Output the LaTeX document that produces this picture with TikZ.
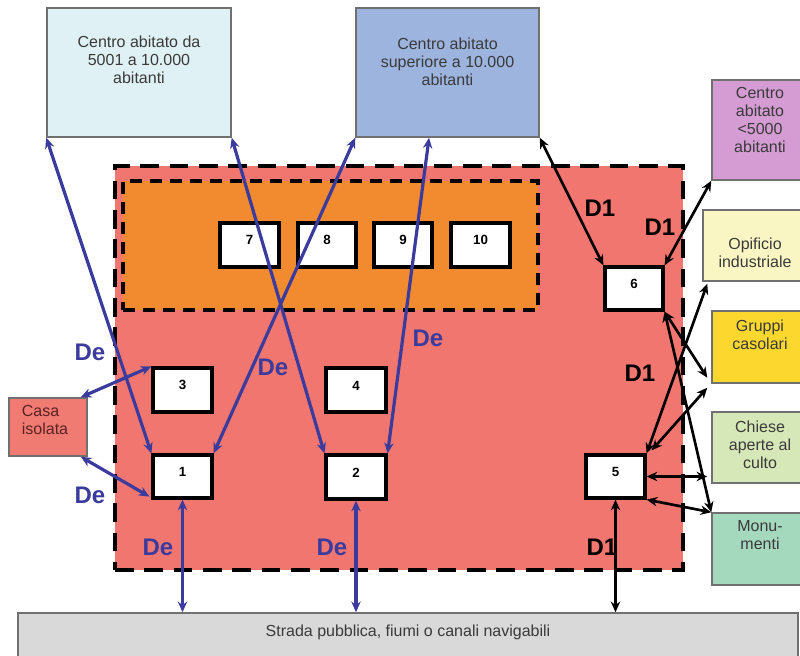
\documentclass[tikz,border=0pt]{standalone}
\usepackage{fontspec}
\setmainfont{Liberation Sans}
\usetikzlibrary{arrows.meta,fit,calc}
\definecolor{redfill}{HTML}{F27670}
\definecolor{orangefill}{HTML}{F28A30}
\definecolor{tlfill}{HTML}{E0F1F5}
\definecolor{tmfill}{HTML}{9DB4DE}
\definecolor{cfill}{HTML}{D49CD3}
\definecolor{opfill}{HTML}{FAF6C4}
\definecolor{gcfill}{HTML}{FCD72E}
\definecolor{chfill}{HTML}{D6E8B8}
\definecolor{mofill}{HTML}{A5D9BE}
\definecolor{barfill}{HTML}{D9D9D9}
\definecolor{casafill}{HTML}{F07B73}
\definecolor{arrowblue}{HTML}{3B3B9E}
\definecolor{txtgray}{HTML}{3A3A3A}
\definecolor{casatxt}{HTML}{5A2222}
\definecolor{boxline}{HTML}{707070}
\begin{document}
\begin{tikzpicture}[x=0.75pt,y=-0.75pt,
  regionbox/.style={inner sep=0pt, draw=black, line width=3.4pt, dash pattern=on 14pt off 8pt},
  subregion/.style={inner sep=0pt, draw=black, line width=2.6pt, dash pattern=on 9pt off 6pt},
  numbox/.style={inner sep=0pt, draw=black, line width=2.4pt, fill=white, font=\fontsize{10}{12}\selectfont\bfseries},
  infobox/.style={inner sep=0pt, draw=boxline, line width=1.1pt},
  infotext/.style={inner sep=0pt, anchor=north, align=center, text=txtgray, font=\fontsize{12}{13.5}\selectfont},
  tip/.tip={Stealth[length=8pt,width=7pt]},
  bluearr/.style={draw=arrowblue, line width=2.4pt, tip-tip},
  blackarr/.style={draw=black, line width=2pt, tip-tip},
  delabel/.style={inner sep=0pt, text=arrowblue, font=\fontsize{18}{18}\selectfont\bfseries},
  donelabel/.style={inner sep=0pt, text=black, font=\fontsize{18}{18}\selectfont\bfseries}
]
\useasboundingbox (0,0) rectangle (800,656);

% regions
\node[regionbox, fill=redfill, fit={(115,166)(683,570)}] (outer) {};
\node[subregion, fill=orangefill, fit={(123,181)(538,310)}] (inner) {};

% top boxes
\node[infobox, fill=tlfill, fit={(47,8)(231,137)},
  label={[infotext, yshift=-21pt]north:{Centro abitato da\\5001 a 10.000\\abitanti}}] (tl) {};
\node[infobox, fill=tmfill, fit={(356,8)(539,137)},
  label={[infotext, yshift=-23pt]north:{Centro abitato\\superiore a 10.000\\abitanti}}] (tm) {};

% right boxes
\node[infobox, fill=cfill, fit={(712,80)(808,180)},
  label={[infotext, yshift=-6pt]north:{Centro\\abitato\\<5000\\abitanti}}] (c5k) {};
\node[infobox, fill=opfill, fit={(703,210)(807,281)},
  label={[infotext, yshift=-21pt]north:{Opificio\\industriale}}] (op) {};
\node[infobox, fill=gcfill, fit={(712,311)(808,383)},
  label={[infotext, yshift=-7pt]north:{Gruppi\\casolari}}] (gc) {};
\node[infobox, fill=chfill, fit={(712,412)(808,483)},
  label={[infotext, yshift=-7pt]north:{Chiese\\aperte al\\culto}}] (ch) {};
\node[infobox, fill=mofill, fit={(712,513)(808,585)},
  label={[infotext, yshift=-6pt]north:{Monu-\\menti}}] (mo) {};

% casa isolata
\node[infobox, fill=casafill, fit={(9,398)(87,456)},
  label={[inner sep=0pt, anchor=north west, align=left, text=casatxt, font=\fontsize{12}{13.5}\selectfont, xshift=10pt, yshift=-6pt]north west:{Casa\\isolata}}] (ci) {};

% bottom bar
\node[infobox, fill=barfill, fit={(18,613)(798,672)},
  label={[infotext, yshift=-9pt]north:{Strada pubblica, fiumi o canali navigabili}}] (bar) {};

% numbered boxes
\node[numbox, fit={(220,223)(279,267)}] (b7) {7};
\node[numbox, fit={(298,223)(356,267)}] (b8) {8};
\node[numbox, fit={(374,223)(432,267)}] (b9) {9};
\node[numbox, fit={(451,223)(510,267)}] (b10) {10};
\node[numbox, fit={(153,368)(212,412)}] (b3) {3};
\node[numbox, fit={(326,368)(386,412)}] (b4) {4};
\node[numbox, fit={(153,455)(212,498)}] (b1) {1};
\node[numbox, fit={(326,455)(386,499)}] (b2) {2};
\node[numbox, fit={(586,455)(645,498)}] (b5) {5};
\node[numbox, fit={(605,267)(663,310)}] (b6) {6};

% blue connectors
\draw[bluearr] (tl.south west) -- (b1.north west);
\draw[bluearr] (tl.south east) -- (b2.north west);
\draw[bluearr] (tm.south west) -- (b1.north east);
\draw[bluearr] ($(tm.south west)!0.4!(tm.south east)$) -- (b2.north east);
\draw[bluearr] ($(ci.north east)+(-7,0)$) -- (b3.north west);
\draw[bluearr] ($(ci.south east)+(-7,0)$) -- ($(b1.south west)+(-2,-3)$);
\draw[bluearr] (b1.south) -- (b1.south |- bar.north);
\draw[bluearr] (b2.south) -- (b2.south |- bar.north);

% black connectors
\draw[blackarr] (tm.south east) -- (b6.north west);
\draw[blackarr] (c5k.south west) -- (b6.north east);
\draw[blackarr] (b6.south east) -- ($(gc.south west)+(-4,-6)$);
\draw[blackarr] (b6.south east) -- (mo.north west);
\draw[blackarr] (b5.north east) -- ($(op.south west)+(5,2)$);
\draw[blackarr] ($(b5.north east)+(5,-3)$) -- ($(gc.south west)+(-4,4)$);
\draw[blackarr] (b5.east) -- ($(b5.east -| ch.west)+(-4,0)$);
\draw[blackarr] (b5.south east) -- (mo.north west);
\draw[blackarr] (b5.south) -- (b5.south |- bar.north);

% distance labels
\node[delabel] (de1) at (90,352) {De};
\node[delabel] (de2) at (273,367) {De};
\node[delabel] (de3) at (428,338) {De};
\node[delabel] (de4) at (90,495) {De};
\node[delabel] (de5) at (158,547) {De};
\node[delabel] (de6) at (332,547) {De};
\node[donelabel] (dd1) at (600,208) {D1};
\node[donelabel] (dd2) at (660,227) {D1};
\node[donelabel] (dd3) at (640,373) {D1};
\node[donelabel] (dd4) at (602,547) {D1};
\end{tikzpicture}
\end{document}
